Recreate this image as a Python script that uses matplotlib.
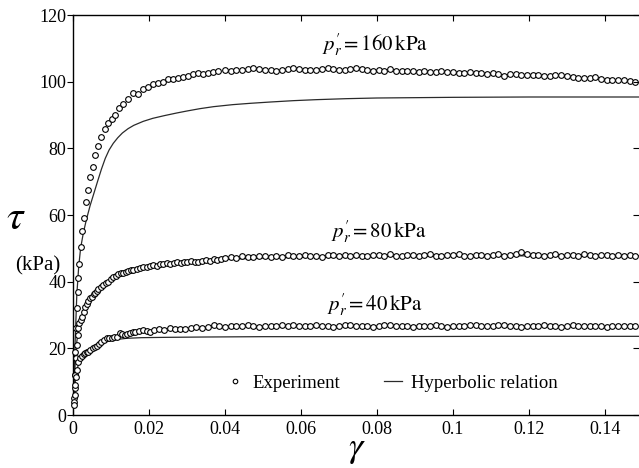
import matplotlib
matplotlib.use("Agg")
import matplotlib.pyplot as plt

plt.rcParams['font.family'] = ['Liberation Serif', 'DejaVu Serif']
plt.rcParams['mathtext.fontset'] = 'stix'

# ---------------- data ----------------
# shared strain positions for the plateau part of the experimental records
gamma_tail = [0.0400, 0.0415, 0.0430, 0.0445, 0.0460, 0.0475, 0.0490, 0.0505, 0.0520, 0.0535,
              0.0550, 0.0565, 0.0580, 0.0595, 0.0610, 0.0625, 0.0640, 0.0655, 0.0670, 0.0685,
              0.0700, 0.0715, 0.0730, 0.0745, 0.0760, 0.0775, 0.0790, 0.0805, 0.0820, 0.0835,
              0.0850, 0.0865, 0.0880, 0.0895, 0.0910, 0.0925, 0.0940, 0.0955, 0.0970, 0.0985,
              0.1000, 0.1015, 0.1030, 0.1045, 0.1060, 0.1075, 0.1090, 0.1105, 0.1120, 0.1135,
              0.1150, 0.1165, 0.1180, 0.1195, 0.1210, 0.1225, 0.1240, 0.1255, 0.1270, 0.1285,
              0.1300, 0.1315, 0.1330, 0.1345, 0.1360, 0.1375, 0.1390, 0.1405, 0.1420, 0.1435,
              0.1450, 0.1465, 0.1480]

# p'r = 160 kPa, experiment
exp160_gamma_head = [0.0002, 0.0004, 0.0006, 0.0008, 0.0010, 0.0012, 0.0014, 0.0017, 0.0020, 0.0023,
                     0.0029, 0.0034, 0.0040, 0.0046, 0.0052, 0.0059, 0.0067, 0.0075, 0.0084, 0.0093,
                     0.0102, 0.0111, 0.0122, 0.0132, 0.0146, 0.0159, 0.0172, 0.0185, 0.0198, 0.0211,
                     0.0225, 0.0238, 0.0251, 0.0264, 0.0277, 0.0290, 0.0303, 0.0316, 0.0329, 0.0342,
                     0.0355, 0.0368, 0.0381]
exp160_tau_head = [5, 12, 19, 26, 32, 37, 41, 45.2, 50.5, 55.3,
                   59, 63.8, 67.5, 71.3, 74.5, 78, 80.8, 83.3, 85.9, 87.5,
                   88.7, 90, 92, 93.3, 94.8, 96.5, 96.3, 97.8, 98.3, 99.2,
                   99.7, 100, 100.7, 100.7, 101, 101.5, 101.8, 102.2, 102.5, 102.4,
                   102.6, 103, 103.1]
exp160_tau_tail = [103.4, 103.2, 103.5, 103.6, 103.8, 104.1, 103.7, 103.6, 103.5, 103.1,
                   103.4, 103.9, 104.2, 103.8, 103.5, 103.6, 103.4, 103.7, 104.2, 103.8,
                   103.6, 103.5, 103.8, 104.2, 103.7, 103.4, 103.3, 103.6, 103.2, 103.8,
                   103.3, 103.2, 103.1, 103.2, 103.0, 103.1, 103.0, 102.9, 103.1, 102.8,
                   102.9, 102.7, 102.6, 102.8, 102.5, 102.6, 102.4, 102.6, 102.2, 101.8,
                   102.2, 102.3, 102.1, 102.0, 101.9, 102.1, 101.8, 101.6, 101.9, 102.0,
                   101.6, 101.5, 101.2, 101.0, 101.1, 101.3, 100.9, 100.6, 100.5, 100.4,
                   100.6, 100.2, 100.0]

# p'r = 80 kPa, experiment
exp80_gamma_head = [0.0002, 0.0004, 0.0006, 0.0008, 0.0010, 0.0012, 0.0014, 0.0017, 0.0020, 0.0023,
                    0.0028, 0.0032, 0.0036, 0.0040, 0.0045, 0.0049, 0.0054, 0.0058, 0.0063, 0.0067,
                    0.0073, 0.0080, 0.0087, 0.0093, 0.0100, 0.0106, 0.0113, 0.0119, 0.0126, 0.0132,
                    0.0139, 0.0146, 0.0153, 0.0159, 0.0168, 0.0176, 0.0185, 0.0194, 0.0203, 0.0211,
                    0.0220, 0.0229, 0.0238, 0.0247, 0.0256, 0.0265, 0.0274, 0.0283, 0.0292, 0.0301,
                    0.0310, 0.0320, 0.0330, 0.0340, 0.0350, 0.0360, 0.0370, 0.0380, 0.0390]
exp80_tau_head = [4, 8, 12, 17, 21, 24, 26, 27.5, 28.5, 29.5,
                  31, 32.3, 33.4, 34.3, 35, 35.5, 36.2, 36.7, 37.3, 37.7,
                  38.4, 39, 39.6, 40, 40.8, 41.5, 41.8, 42.2, 42.5, 42.7,
                  43, 43.2, 43.4, 43.5, 43.8, 44, 44.3, 44.5, 44.7, 45,
                  44.8, 45.2, 45.3, 45.5, 45.3, 45.7, 45.8, 45.6, 46, 45.9,
                  46.1, 46, 45.8, 46.3, 46.5, 46.3, 46.8, 46.6, 46.9]
exp80_tau_tail = [47.2, 47.4, 47.1, 47.6, 47.5, 47.3, 47.7, 47.6, 47.4, 47.8,
                  47.5, 47.9, 47.6, 47.7, 48.0, 47.6, 47.8, 47.5, 47.9, 48.1,
                  47.7, 47.9, 47.6, 48.0, 47.8, 47.6, 48.1, 47.9, 47.7, 48.2,
                  47.8, 47.6, 47.9, 48.1, 47.7, 47.9, 48.2, 47.8, 47.6, 48.0,
                  47.9, 48.3, 47.8, 47.7, 48.1, 47.9, 47.6, 48.0, 48.2, 47.8,
                  48.0, 48.4, 48.9, 48.3, 47.9, 48.1, 47.7, 48.0, 48.3, 47.8,
                  48.1, 47.9, 47.7, 48.2, 48.0, 47.8, 48.1, 47.9, 47.6, 48.0,
                  47.8, 47.9, 47.7]

# p'r = 40 kPa, experiment
exp40_gamma_head = [0.0002, 0.0004, 0.0006, 0.0008, 0.0010, 0.0014, 0.0018, 0.0023, 0.0028, 0.0032,
                    0.0036, 0.0040, 0.0046, 0.0052, 0.0057, 0.0062, 0.0068, 0.0075, 0.0082, 0.0089,
                    0.0096, 0.0102, 0.0109, 0.0115, 0.0124, 0.0130, 0.0136, 0.0143, 0.0150, 0.0157,
                    0.0163, 0.0174, 0.0185, 0.0194, 0.0202, 0.0214, 0.0226, 0.0240, 0.0255, 0.0268,
                    0.0282, 0.0296, 0.0310, 0.0325, 0.0340, 0.0355, 0.0370, 0.0385]
exp40_tau_head = [3, 6, 9, 11.5, 13.5, 16, 17, 17.7, 18.2, 18.5,
                  18.8, 19, 19.5, 20, 20.3, 20.7, 21.3, 22, 22.5, 23,
                  23, 23.2, 23.5, 23.5, 24.5, 24.2, 24, 24.3, 24.5, 24.8,
                  25, 25.3, 25.5, 25.3, 25, 25.4, 25.7, 25.6, 26, 25.8,
                  25.7, 25.9, 26.1, 26.5, 26.2, 26.4, 27, 26.6]
exp40_tau_tail = [26.5, 26.7, 26.8, 26.6, 26.9, 26.7, 26.5, 26.8, 26.6, 26.7,
                  26.9, 26.6, 27.1, 26.8, 26.6, 26.7, 26.9, 26.8, 26.6, 26.5,
                  26.7, 26.9, 27.0, 26.8, 26.6, 26.7, 26.5, 26.8, 26.9, 27.1,
                  26.8, 26.6, 26.7, 26.5, 26.6, 26.8, 26.7, 26.9, 26.6, 26.5,
                  26.7, 26.8, 26.6, 26.9, 27.0, 26.8, 26.6, 26.7, 26.9, 27.1,
                  26.8, 26.6, 26.5, 26.7, 26.6, 26.8, 26.9, 26.7, 26.6, 26.5,
                  26.7, 26.9, 26.8, 26.6, 26.7, 26.8, 26.6, 26.5, 26.7, 26.8,
                  26.6, 26.7, 26.6]

# hyperbolic relation curves
hyp160_gamma = [0, 0.0005, 0.0010, 0.0015, 0.0020, 0.0027, 0.0035, 0.0045, 0.0055, 0.0065,
                0.0075, 0.0085, 0.0095, 0.0106, 0.0118, 0.0130, 0.0145, 0.0160, 0.0185, 0.0210,
                0.0240, 0.0273, 0.0300, 0.0334, 0.0370, 0.0420, 0.0466, 0.0520, 0.0580, 0.0640,
                0.0720, 0.0800, 0.0900, 0.1000, 0.1200, 0.149]
hyp160_tau = [0, 20, 36, 44.5, 50, 54.5, 58.5, 62.8, 66.5, 70.2,
              73.8, 77, 79.5, 81.5, 83.2, 84.6, 85.9, 86.9, 88.1, 89.0,
              89.8, 90.6, 91.2, 91.9, 92.5, 93.1, 93.5, 93.9, 94.3, 94.6,
              94.9, 95.1, 95.2, 95.3, 95.4, 95.4]
hyp80_gamma = [0, 0.0003, 0.0006, 0.0010, 0.0015, 0.0020, 0.0030, 0.0040, 0.0050, 0.0060,
               0.0080, 0.0100, 0.0125, 0.0150, 0.0200, 0.0250, 0.0300, 0.0400, 0.0500, 0.0700,
               0.1000, 0.149]
hyp80_tau = [0, 9, 16, 22, 26, 28.5, 31.5, 33.8, 35.5, 37,
             39.3, 41, 42.5, 43.5, 44.7, 45.5, 46, 46.7, 47.1, 47.5,
             47.7, 47.8]
hyp40_gamma = [0, 0.0003, 0.0006, 0.0010, 0.0014, 0.0018, 0.0025, 0.0036, 0.0050, 0.0062,
               0.0075, 0.0089, 0.0110, 0.0141, 0.0180, 0.0247, 0.0350, 0.0500, 0.0800, 0.1100,
               0.149]
hyp40_tau = [0, 6, 10, 13.5, 15, 15.8, 16.8, 18, 19.5, 20.5,
             21.3, 22, 22.6, 23, 23.2, 23.3, 23.4, 23.5, 23.5, 23.6,
             23.6]

x_ticks = [0, 0.02, 0.04, 0.06, 0.08, 0.1, 0.12, 0.14]
x_tick_labels = ["0", "0.02", "0.04", "0.06", "0.08", "0.1", "0.12", "0.14"]
y_ticks = [0, 20, 40, 60, 80, 100, 120]
y_tick_labels = ["0", "20", "40", "60", "80", "100", "120"]

labels = [r"$p_r^{\prime}=160\,\mathrm{kPa}$", r"$p_r^{\prime}=80\,\mathrm{kPa}$",
          r"$p_r^{\prime}=40\,\mathrm{kPa}$"]
label_pos = [(0.0655, 111), (0.0680, 55), (0.0668, 33)]

# ---------------- plot ----------------
W, H = 639, 468
fig = plt.figure(figsize=(W / 100, H / 100), dpi=100)
ax = fig.add_axes([73 / W, 53 / H, 566 / W, 400 / H])

mk = dict(ls='none', marker='o', ms=4.1, mfc='white', mec='black', mew=0.8)
ln = dict(color='#2a2a2a', lw=0.9)

series = [
    (exp160_gamma_head + gamma_tail, exp160_tau_head + exp160_tau_tail, hyp160_gamma, hyp160_tau),
    (exp80_gamma_head + gamma_tail, exp80_tau_head + exp80_tau_tail, hyp80_gamma, hyp80_tau),
    (exp40_gamma_head + gamma_tail, exp40_tau_head + exp40_tau_tail, hyp40_gamma, hyp40_tau),
]
for i, (gx, gy, hx, hy) in enumerate(series):
    ax.plot(hx, hy, label='Hyperbolic relation' if i == 0 else None, zorder=2, **ln)
    ax.plot(gx, gy, label='Experiment' if i == 0 else None, zorder=3, clip_on=False, **mk)

for txt, (x, y) in zip(labels, label_pos):
    ax.text(x, y, txt, fontsize=15, ha='left', va='center')

ax.set_xlim(0, 0.149)
ax.set_ylim(0, 120)
ax.set_xticks(x_ticks)
ax.set_xticklabels(x_tick_labels)
ax.set_yticks(y_ticks)
ax.set_yticklabels(y_tick_labels)
ax.spines['right'].set_visible(False)
for s in ['left', 'top', 'bottom']:
    ax.spines[s].set_linewidth(1.0)
ax.tick_params(axis='x', which='both', direction='in', top=True, bottom=True,
               length=4, width=0.8, labelsize=13, pad=4)
ax.tick_params(axis='y', which='both', direction='out', left=True, right=False,
               length=4, width=0.8, labelsize=13, pad=1)
# inward ticks at the right edge
axr = ax.twinx()
axr.set_ylim(0, 120)
axr.set_yticks(y_ticks)
axr.tick_params(axis='y', direction='in', length=4, width=0.8, labelright=False)
for s in axr.spines.values():
    s.set_visible(False)

h, l = ax.get_legend_handles_labels()
order = [l.index('Experiment'), l.index('Hyperbolic relation')]
ax.legend([h[o] for o in order], [l[o] for o in order], loc='center',
          bbox_to_anchor=(0.563, 0.08), ncol=2, frameon=False, fontsize=13.5,
          markerscale=0.8, handlelength=1.0, handletextpad=0.45, columnspacing=2.3)

fig.text(16 / W, 1 - 219 / H, r"$\tau$", fontsize=30, ha='center', va='center')
fig.text(38 / W, 1 - 266 / H, "(kPa)", fontsize=15, ha='center', va='center')
fig.text(357 / W, 1 - 450 / H, r"$\gamma$", fontsize=26, ha='center', va='center')

fig.savefig("out.png", dpi=100)
